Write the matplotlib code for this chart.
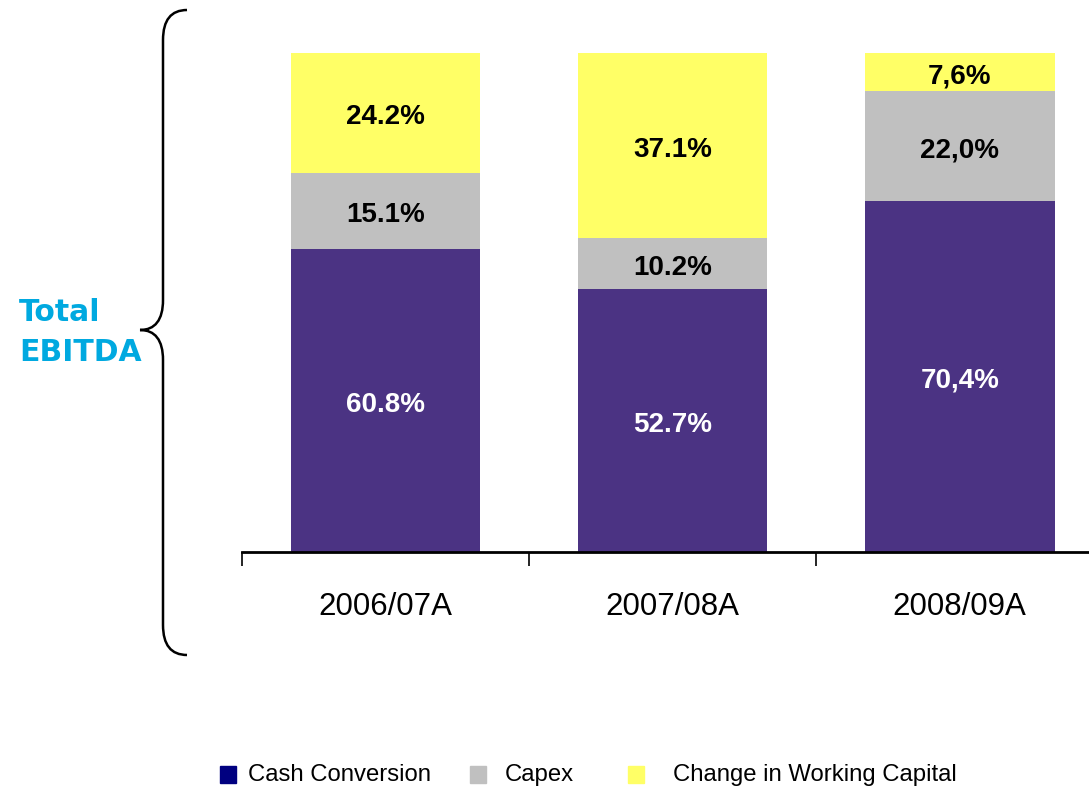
import matplotlib
matplotlib.use("Agg")
import matplotlib.pyplot as plt
from matplotlib.patches import Rectangle, PathPatch
from matplotlib.path import Path
import numpy as np

categories = ["2006/07A", "2007/08A", "2008/09A"]
cash_conversion = [60.8, 52.7, 70.4]
capex = [15.1, 10.2, 22.0]
working_capital = [24.2, 37.1, 7.6]
cash_labels = ["60.8%", "52.7%", "70,4%"]
capex_labels = ["15.1%", "10.2%", "22,0%"]
wc_labels = ["24.2%", "37.1%", "7,6%"]
series_names = ["Cash Conversion", "Capex", "Change in Working Capital"]

W, H = 1089, 787
fig = plt.figure(figsize=(W / 100, H / 100), dpi=100)
fig.patch.set_facecolor("white")

def fx(px):
    return px / W

def fy(py):
    return 1 - py / H

ax = fig.add_axes([fx(242), fy(552), fx(1089) - fx(242), fy(53) - fy(552)])
x = np.arange(len(categories))
bw = 0.66
c_cash = "#4B3383"
c_capex = "#C0C0C0"
c_wc = "#FFFF66"
ax.bar(x, cash_conversion, bw, color=c_cash)
ax.bar(x, capex, bw, bottom=cash_conversion, color=c_capex)
bottom3 = [a + b for a, b in zip(cash_conversion, capex)]
ax.bar(x, working_capital, bw, bottom=bottom3, color=c_wc)

fnt = "Liberation Sans"
lab_kw = dict(ha="center", va="center_baseline", fontsize=20, fontweight="bold", family=fnt,
              textcoords="offset points", xytext=(0, -1))
for i in range(len(categories)):
    ax.annotate(cash_labels[i], (x[i], cash_conversion[i] / 2), color="white", **lab_kw)
    ax.annotate(capex_labels[i], (x[i], cash_conversion[i] + capex[i] / 2), color="black", **lab_kw)
    ax.annotate(wc_labels[i], (x[i], bottom3[i] + working_capital[i] / 2), color="black", **lab_kw)

ax.set_xlim(-0.5, 2.45)
ax.set_ylim(0, 100)
for s in ["top", "right", "left"]:
    ax.spines[s].set_visible(False)
ax.spines["bottom"].set_linewidth(2)
ax.set_yticks([])
ax.set_xticks(x)
ax.set_xticklabels(categories, fontsize=22.5, family=fnt)
ax.tick_params(axis="x", which="major", length=0, pad=29)
ax.set_xticks([-0.5, 0.5, 1.5], minor=True)
ax.tick_params(axis="x", which="minor", length=10, width=1.2, direction="out")

# Brace
tipx, midy = fx(140), fy(330)
lx = fx(163)
ex = fx(187)
topy, boty = fy(10), fy(655)
verts = [
    (ex, topy), (lx, topy), (lx, fy(40)), (lx, fy(60)),
    (lx, fy(300)),
    (lx, fy(320)), (fx(155), midy), (tipx, midy),
    (fx(155), midy), (lx, fy(340)), (lx, fy(360)),
    (lx, fy(625)),
    (lx, boty), (ex, boty), (ex, boty),
]
codes = [Path.MOVETO, Path.CURVE3, Path.CURVE3, Path.LINETO,
         Path.LINETO,
         Path.CURVE4, Path.CURVE4, Path.CURVE4,
         Path.CURVE4, Path.CURVE4, Path.CURVE4,
         Path.LINETO,
         Path.CURVE3, Path.CURVE3, Path.LINETO]
brace = PathPatch(Path(verts, codes), transform=fig.transFigure, fill=False,
                  lw=1.8, edgecolor="black")
fig.add_artist(brace)

fig.text(fx(19), fy(312), "Total", color="#00A9E0", fontsize=21.5, fontweight="bold",
         family="DejaVu Sans", ha="left", va="center")
fig.text(fx(19), fy(352), "EBITDA", color="#00A9E0", fontsize=21.5, fontweight="bold",
         family="DejaVu Sans", ha="left", va="center")

# Legend
leg_colors = ["#000080", "#C0C0C0", "#FFFF66"]
sq_x = [220, 470, 628]
tx_x = [248, 505, 673]
for name, col, sx, tx in zip(series_names, leg_colors, sq_x, tx_x):
    fig.add_artist(Rectangle((fx(sx), fy(783)), fx(16), fy(766) - fy(783),
                             transform=fig.transFigure, color=col))
    fig.text(fx(tx), fy(775), name, fontsize=17.2, family=fnt, ha="left", va="center")

fig.savefig("out.png", dpi=100)
